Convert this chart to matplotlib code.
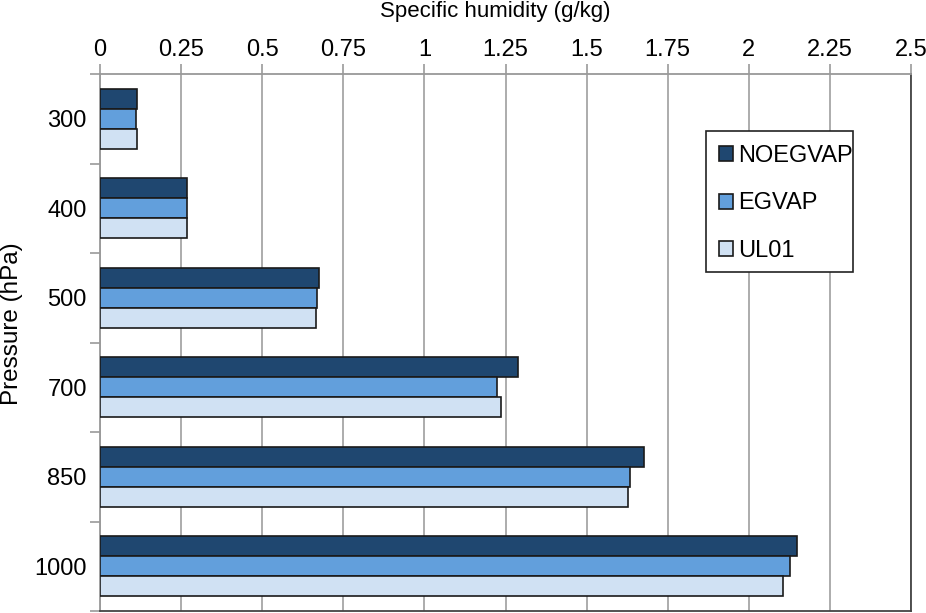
import numpy as np
import matplotlib.pyplot as plt
from matplotlib.patches import Rectangle
from matplotlib.ticker import FixedLocator

plt.rcParams["font.family"] = ["Liberation Sans", "DejaVu Sans"]

pressure = ["300", "400", "500", "700", "850", "1000"]
noegvap = [0.114, 0.269, 0.674, 1.288, 1.676, 2.150]
egvap = [0.111, 0.269, 0.668, 1.223, 1.633, 2.127]
ul01 = [0.114, 0.269, 0.665, 1.236, 1.627, 2.104]
xticks = [0, 0.25, 0.5, 0.75, 1, 1.25, 1.5, 1.75, 2, 2.25, 2.5]
xtick_labels = ["0", "0.25", "0.5", "0.75", "1", "1.25", "1.5", "1.75",
                "2", "2.25", "2.5"]

series = [
    ("NOEGVAP", noegvap, "#1f4770"),
    ("EGVAP", egvap, "#629fdc"),
    ("UL01", ul01, "#d0e1f3"),
]

TICK_FONT = 17
BAR_H = 0.223
W, H = 926, 613

fig = plt.figure(figsize=(W / 100, H / 100), dpi=100)
ax = fig.add_axes([100 / W, 2 / H, 811 / W, 537 / H])

pos = np.arange(len(pressure))
for k, (name, vals, color) in enumerate(series):
    ax.barh(
        pos + (k - 1) * BAR_H,
        vals,
        height=BAR_H,
        color=color,
        edgecolor="#1a1a1a",
        linewidth=1.2,
        label=name,
        zorder=3,
    )

ax.set_xlim(0, 2.5)
ax.set_ylim(len(pressure) - 0.5, -0.5)

# x axis on top
ax.xaxis.tick_top()
ax.xaxis.set_label_position("top")
ax.set_xticks(xticks)
ax.set_xticklabels(xtick_labels)
ax.tick_params(axis="x", which="major", direction="out", length=7, width=1.2,
               color="#999999", labelsize=TICK_FONT, pad=2)
ax.set_xlabel("Specific humidity (g/kg)", fontsize=16)
ax.xaxis.set_label_coords(0.487, 1.106)
ax.grid(axis="x", color="#a6a6a6", linewidth=1.3, zorder=0)

# y axis: labels at centers, ticks at boundaries
ax.set_yticks(pos)
ax.set_yticklabels(pressure)
ax.yaxis.set_minor_locator(FixedLocator(np.arange(-0.5, len(pressure), 1.0)))
ax.tick_params(axis="y", which="major", length=0, labelsize=TICK_FONT, pad=9.5)
ax.tick_params(axis="y", which="minor", direction="out", length=7, width=1.2,
               color="#999999")
ax.set_ylabel("Pressure (hPa)", fontsize=17.5)
ax.yaxis.set_label_coords(-0.095, 0.535)

for side in ["top", "left"]:
    ax.spines[side].set_color("#999999")
    ax.spines[side].set_linewidth(1.3)
for side in ["right", "bottom"]:
    ax.spines[side].set_color("#444444")
    ax.spines[side].set_linewidth(1.3)

# legend: entries without frame, box drawn separately
leg = ax.legend(
    loc="upper left",
    bbox_to_anchor=(719 / W, 1 - 145 / H),
    bbox_transform=fig.transFigure,
    fontsize=17,
    frameon=False,
    handlelength=0.6,
    handleheight=0.6,
    handletextpad=0.2,
    labelspacing=1.08,
    borderpad=0,
    borderaxespad=0,
)
leg.set_zorder(6)
ax.add_patch(Rectangle((706 / W, 1 - 272 / H), 147 / W, 141 / H,
                       transform=fig.transFigure, facecolor="white",
                       edgecolor="#222222", linewidth=1.2, zorder=5,
                       clip_on=False))

fig.savefig("out.png", dpi=100)
